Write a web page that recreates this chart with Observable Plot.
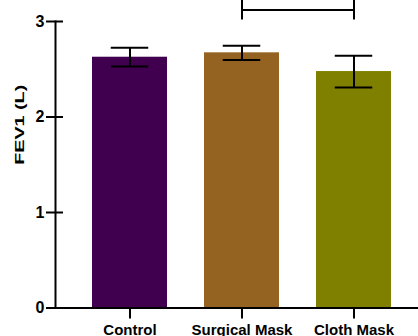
<!DOCTYPE html>
<html>
<head>
<meta charset="utf-8">
<script src="https://cdn.jsdelivr.net/npm/d3@7"></script>
<script src="https://cdn.jsdelivr.net/npm/@observablehq/plot@0.6"></script>
<style>
  html, body { margin: 0; padding: 0; background: #fff; }
</style>
</head>
<body>
<div id="chart"></div>
<script>
const categories = ["Control", "Surgical Mask", "Cloth Mask"];
const means = [2.626, 2.672, 2.476];
const errors = [0.098, 0.075, 0.166];
const colors = ["#41004f", "#946221", "#808000"];
const yTicks = [0, 1, 2, 3];
const yLabel = "FEV1 (L)";
const bracketCats = ["Surgical Mask", "Surgical Mask", "Cloth Mask", "Cloth Mask"];
const bracketVals = [3.3, 3.12, 3.12, 3.3];
const bracketLow = 3.017;

const data = categories.map((c, i) => ({
  cat: c, mean: means[i], low: means[i] - errors[i], high: means[i] + errors[i], color: colors[i]
}));
const bracket = bracketCats.map((c, i) => ({cat: c, y: bracketVals[i]}));
const bracketEnds = [
  {cat: bracketCats[0], y1: bracketLow, y2: bracketVals[0]},
  {cat: bracketCats[3], y1: bracketLow, y2: bracketVals[3]}
];

const plot = Plot.plot({
  width: 418,
  height: 336,
  marginTop: 21,
  marginBottom: 28.5,
  marginLeft: 55,
  marginRight: 0,
  style: {fontFamily: "'Liberation Sans', Arial, sans-serif", color: "#000", background: "#fff", overflow: "hidden"},
  x: {domain: categories, range: [55, 428], paddingInner: 0.33, paddingOuter: 0.33, axis: null},
  y: {domain: [0, 3], axis: null},
  color: {domain: categories, range: colors},
  marks: [
    Plot.barY(data, {x: "cat", y: "mean", fill: "cat"}),
    Plot.ruleX(data, {x: "cat", y1: "low", y2: "high", stroke: "#000", strokeWidth: 2}),
    Plot.tickY(data, {x: "cat", y: "high", stroke: "#000", strokeWidth: 2, insetLeft: 18.75, insetRight: 18.75}),
    Plot.tickY(data, {x: "cat", y: "low", stroke: "#000", strokeWidth: 2, insetLeft: 18.75, insetRight: 18.75}),
    Plot.ruleX(bracketEnds, {x: "cat", y1: "y1", y2: "y2", stroke: "#000", strokeWidth: 2}),
    Plot.line(bracket, {x: "cat", y: "y", stroke: "#000", strokeWidth: 2}),
    Plot.ruleY([0], {stroke: "#000", strokeWidth: 2}),
    Plot.frame({anchor: "left", stroke: "#000", strokeWidth: 2}),
    Plot.axisY(yTicks, {tickSize: 17, dx: 8, fill: "none", stroke: "#000", strokeWidth: 2}),
    Plot.axisY(yTicks, {tickSize: 0, tickPadding: 11, tickFormat: d => String(d), fontSize: 16, fontWeight: "bold", fill: "#000", label: null}),
    Plot.axisX({tickSize: 11, tickPadding: 5, fontSize: 15, fontWeight: "bold", stroke: "#000", strokeWidth: 2, fill: "#000", label: null}),
    Plot.text([yLabel], {text: d => d, frameAnchor: "left", rotate: -90, dx: -36, fontSize: 12.5, fontWeight: "bold", fill: "#000"})
  ]
});
document.getElementById("chart").appendChild(plot);
plot.querySelectorAll("text").forEach(t => {
  if (t.textContent === yLabel) {
    t.setAttribute("textLength", "80");
    t.setAttribute("lengthAdjust", "spacingAndGlyphs");
  }
});
</script>
</body>
</html>
